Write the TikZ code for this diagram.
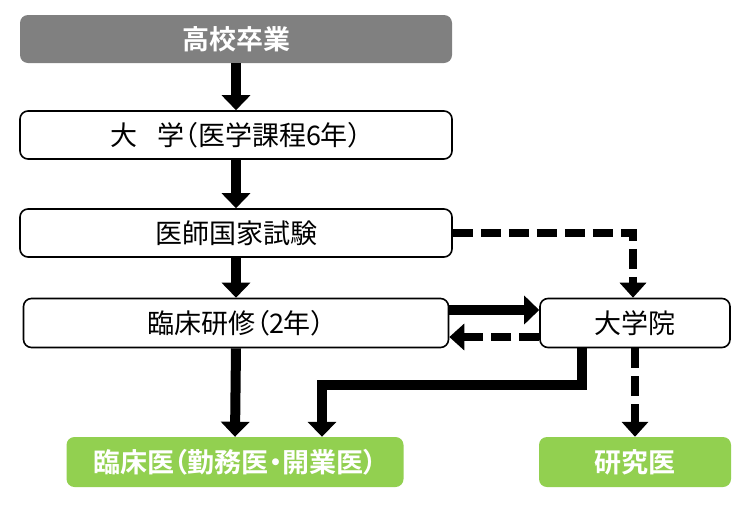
\documentclass[tikz,border=0pt]{standalone}
\usepackage{fontspec}
\newfontfamily\jp[RawFeature=+palt]{Noto Sans CJK JP}
\newfontfamily\jpb[RawFeature=+palt]{Noto Sans CJK JP Bold}
\usetikzlibrary{arrows.meta}
\definecolor{hsgray}{RGB}{128,128,128}
\definecolor{hsgreen}{RGB}{146,208,80}
\tikzset{
  whitebox/.style={draw=black, line width=1.6pt, fill=white, rounded corners=8pt, inner sep=0pt, font=\jp\fontsize{27}{27}\selectfont},
  graybox/.style={fill=hsgray, rounded corners=8pt, inner sep=0pt, text=white, font=\jpb\fontsize{27}{27}\selectfont},
  greenbox/.style={fill=hsgreen, rounded corners=8pt, inner sep=0pt, text=white, font=\jpb\fontsize{27}{27}\selectfont},
  solidarrow/.style={line width=10pt, -{Triangle[width=28pt,length=15pt]}},
  dasharrow/.style={line width=8pt, dash pattern=on 20pt off 8pt, -{Triangle[width=26pt,length=15pt]}}
}
\begin{document}
\begin{tikzpicture}[x=1pt,y=-1pt]
\useasboundingbox (0,0) rectangle (750,517);
\node[graybox, minimum width=432pt, minimum height=48pt] (top) at (236,39) {高校卒業};
\node[whitebox, minimum width=432pt, minimum height=48pt] (univ) at (236,135) {大\hspace{20pt}学（医学課程6年）};
\node[whitebox, minimum width=432pt, minimum height=48pt] (exam) at (236,233) {医師国家試験};
\node[whitebox, minimum width=425pt, minimum height=49pt] (train) at (236,323) {臨床研修（2年）};
\node[whitebox, minimum width=190pt, minimum height=49pt] (grad) at (635,323) {大学院};
\node[greenbox, minimum width=337pt, minimum height=50pt] (clin) at (235,462) {臨床医（勤務医・開業医）};
\node[greenbox, minimum width=192pt, minimum height=50pt] (res) at (635,462) {研究医};

\draw[solidarrow] (top.south) -- (univ.north);
\draw[solidarrow] (univ.south) -- (exam.north);
\draw[solidarrow] (exam.south) -- (train.north);
\draw[solidarrow] (train.south) -- (clin.north);
\draw[dasharrow] (exam.east) -| ([xshift=-2pt]grad.north);
\draw[solidarrow] ([yshift=13pt]train.east) -- ([yshift=13pt]grad.west);
\draw[dasharrow] ([yshift=-14pt]grad.west) -- ([yshift=-14pt]train.east);
\draw[solidarrow] ([xshift=-53pt]grad.south) -- ++(0,37) -| ([xshift=87pt]clin.north);
\draw[dasharrow] (grad.south) -- (res.north);
\end{tikzpicture}
\end{document}
